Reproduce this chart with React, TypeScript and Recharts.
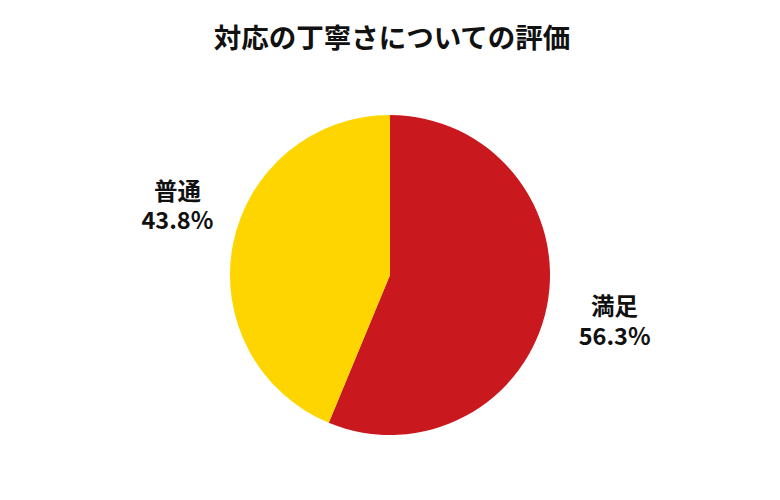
import React from "react";
import { PieChart, Pie, Cell } from "recharts";

const categories = ["満足", "普通"];
const values = [56.25, 43.75];
const percentLabels = ["56.3%", "43.8%"];
const colors = ["#C9191E", "#FFD500"];

const data = categories.map((name, i) => ({ name, value: values[i], pct: percentLabels[i] }));

const FONT = '"Noto Sans CJK JP", "Noto Sans", sans-serif';
const RADIAN = Math.PI / 180;

const renderLabel = (props: any) => {
  const { cx, cy, midAngle, outerRadius, index } = props;
  const r = outerRadius + 69;
  let x = cx + r * Math.cos(-midAngle * RADIAN);
  let y = cy + r * Math.sin(-midAngle * RADIAN);
  const left = x < cx;
  if (left) {
    x += 12;
    y -= 26;
  }
  const common = {
    textAnchor: "middle" as const,
    dominantBaseline: "central" as const,
    fontFamily: FONT,
    fontWeight: "bold",
    fontSize: 23.5,
    fill: "#111",
  };
  return (
    <g>
      <text x={x} y={y - 14.5} {...common}>{data[index].name}</text>
      <text x={x} y={y + 15} {...common}>{data[index].pct}</text>
    </g>
  );
};

export default function App() {
  return (
    <div style={{ position: "absolute", left: 0, top: 0, width: 780, height: 500, background: "#fff" }}>
      <PieChart width={780} height={500} margin={{ top: 0, right: 0, bottom: 0, left: 0 }}>
        <text
          x={392}
          y={36}
          textAnchor="middle"
          dominantBaseline="central"
          fontFamily={FONT}
          fontWeight="bold"
          fontSize={27.5}
          fill="#111"
        >
          対応の丁寧さについての評価
        </text>
        <Pie
          data={data}
          dataKey="value"
          nameKey="name"
          cx={390}
          cy={275}
          outerRadius={160}
          startAngle={90}
          endAngle={-270}
          stroke="none"
          label={renderLabel}
          labelLine={false}
          isAnimationActive={false}
        >
          {data.map((d, i) => (
            <Cell key={d.name} fill={colors[i]} />
          ))}
        </Pie>
      </PieChart>
    </div>
  );
}
